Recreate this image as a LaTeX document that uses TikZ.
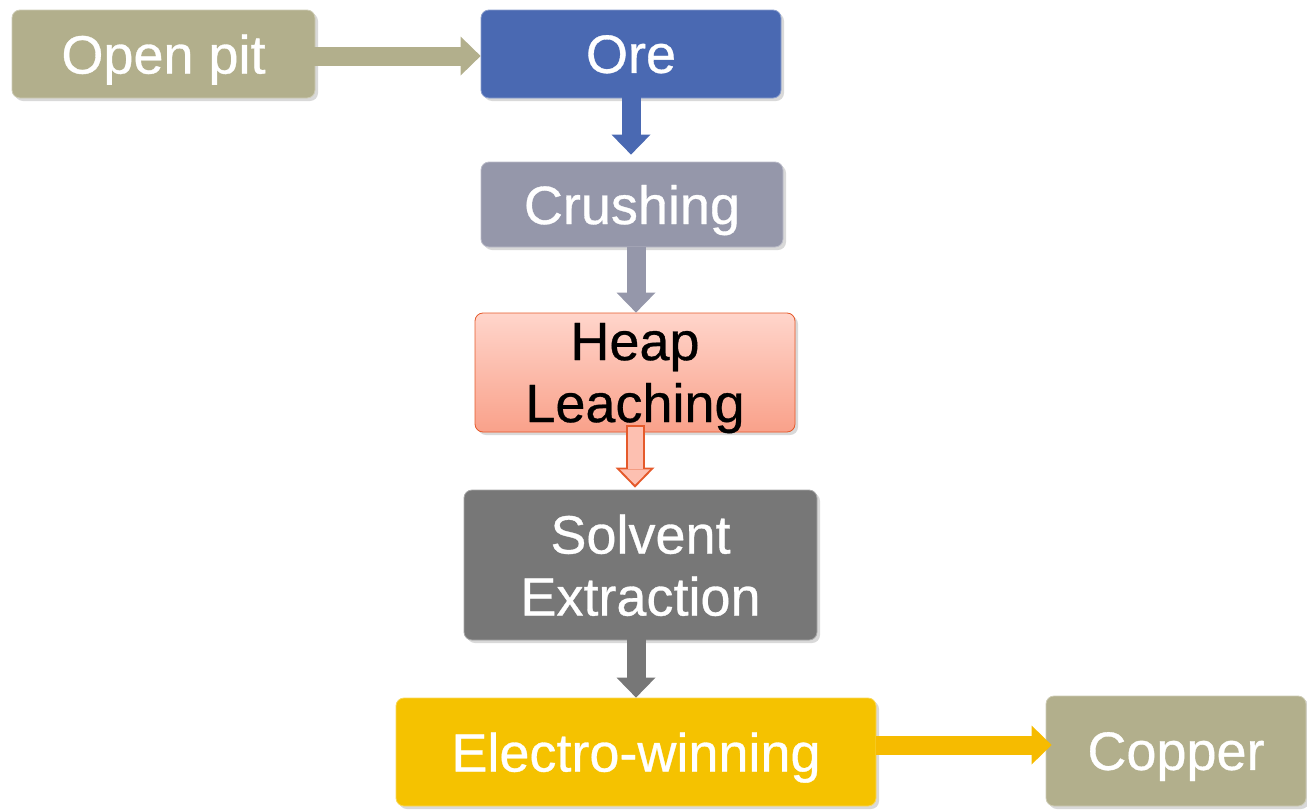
\documentclass[tikz,border=0pt]{standalone}
\usepackage{fontspec}
\setmainfont{Liberation Sans}
\newfontfamily\stagefont{Liberation Sans}[FakeBold=0.6]
\usetikzlibrary{arrows.meta,shadows,positioning}
\definecolor{pitkhaki}{HTML}{B2AF8C}
\definecolor{oreblue}{HTML}{4A69B2}
\definecolor{crushgray}{HTML}{9597AA}
\definecolor{heaptop}{HTML}{FFD5CB}
\definecolor{heapbot}{HTML}{F9A18A}
\definecolor{heapline}{HTML}{E55A2B}
\definecolor{solventgray}{HTML}{777777}
\definecolor{ewyellow}{HTML}{F5C200}
\begin{document}
\begin{tikzpicture}[x=0.5pt,y=-0.5pt,line join=round,
    stage/.style={rounded corners=4pt, draw=#1!65!white, fill=#1, text=white,
      font=\stagefont\fontsize{27}{31}\selectfont, align=center, inner sep=0pt, text depth=0pt,
      drop shadow={opacity=.3,shadow xshift=1.5pt,shadow yshift=-1.5pt}},
    flow/.style={line width=9.5pt, draw=#1, -{Triangle[width=19.5pt,length=10pt,line width=0pt]}}]
  \useasboundingbox (0,0) rectangle (1307,809);
  % stages
  \node[stage=pitkhaki, minimum width=151.5pt, minimum height=44pt] (pit) at (163.5,54) {Open pit};
  \node[stage=oreblue, minimum width=150pt, minimum height=44pt] (ore) at (631,54) {Ore};
  \node[stage=crushgray, minimum width=151pt, minimum height=42.5pt] (crush) at (632,204.5) {Crushing};
  \node[stage=heapbot, draw=heapline, top color=heaptop, bottom color=heapbot, text=black,
    minimum width=160pt, minimum height=59.5pt] (heap) at (635,372.5) {Heap\\Leaching};
  \node[stage=solventgray, minimum width=176.5pt, minimum height=75pt] (solvent) at (640.5,565) {Solvent\\Extraction};
  \node[stage=ewyellow, minimum width=240pt, minimum height=54pt] (ew) at (636,752) {Electro-winning};
  \node[stage=pitkhaki, minimum width=130pt, minimum height=55pt] (copper) at (1176,751) {Copper};
  % arrows
  \draw[flow=pitkhaki] ([xshift=-8pt,yshift=-1pt]pit.east) -- ([yshift=-1pt]pit.east -| ore.west);
  \draw[flow=oreblue] ([yshift=5pt]ore.south) -- ([yshift=3.5pt]ore.south |- crush.north);
  \draw[flow=crushgray] ([xshift=2pt]crush.south) -- ([xshift=2pt]crush.south |- heap.north);
  \draw[flow=heapline] ([yshift=3.5pt]heap.south) -- ([yshift=1pt]heap.south |- solvent.north);
  \draw[line width=7.5pt, draw=heaptop!60!heapbot, shorten <=1pt, shorten >=1.5pt,
    -{Triangle[width=15pt,length=7.6pt,line width=0pt]}]
    ([yshift=3.5pt]heap.south) -- ([yshift=1pt]heap.south |- solvent.north);
  \draw[flow=solventgray] ([yshift=4pt]ew.north |- solvent.south) -- (ew.north);
  \draw[flow=ewyellow!90!orange] ([yshift=3.5pt]ew.east) -- ([yshift=3.5pt,xshift=3pt]ew.east -| copper.west);
\end{tikzpicture}
\end{document}
